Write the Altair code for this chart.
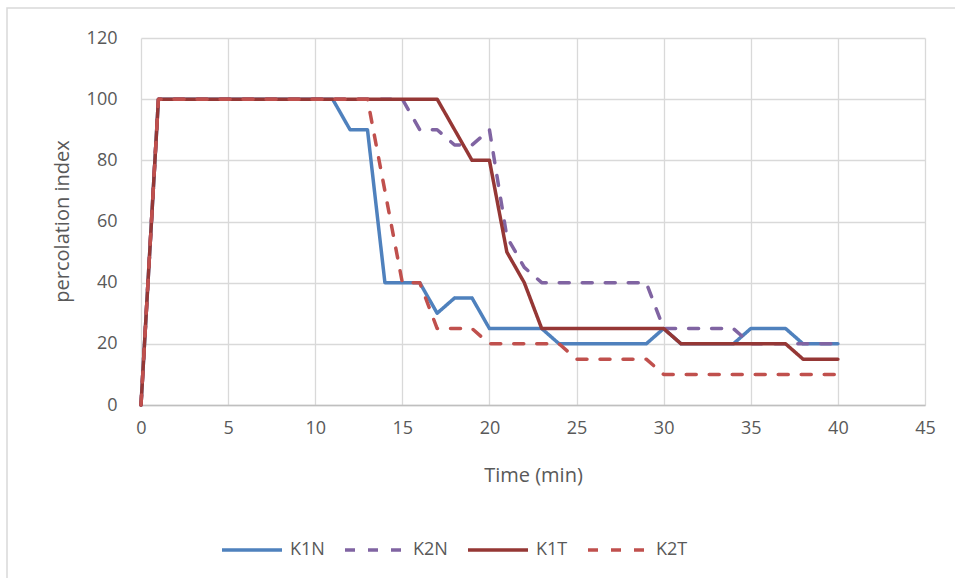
import altair as alt
import pandas as pd

minutes = list(range(0, 41))
k1n = [0] + [100] * 11 + [90, 90, 40, 40, 40, 30, 35, 35, 25, 25, 25, 25,
                          20, 20, 20, 20, 20, 20, 25, 20, 20, 20, 20, 25, 25, 25, 20, 20, 20]
k2n = [0] + [100] * 15 + [90, 90, 85, 85, 90, 55, 45, 40, 40, 40, 40, 40, 40, 40,
                          25, 25, 25, 25, 25, 20, 20, 20, 20, 20, 20]
k1t = [0] + [100] * 17 + [90, 80, 80, 50, 40, 25, 25, 25, 25, 25, 25, 25, 25,
                          20, 20, 20, 20, 20, 20, 20, 15, 15, 15]
k2t = [0] + [100] * 13 + [70, 40, 40, 25, 25, 25, 20, 20, 20, 20, 20, 15, 15, 15, 15, 15,
                          10, 10, 10, 10, 10, 10, 10, 10, 10, 10, 10]

series_names = ["K1N", "K2N", "K1T", "K2T"]
series_values = [k1n, k2n, k1t, k2t]
colors = ["#4F81BD", "#8064A2", "#953735", "#C0504D"]
dashes = [[1, 0], [10, 13], [1, 0], [10, 13]]

rows = []
for name, vals in zip(series_names, series_values):
    for t, v in zip(minutes, vals):
        rows.append({"Time": t, "value": v, "series": name})
df = pd.DataFrame(rows)

FONT = "Open Sans"
GRAY = "#595959"

lines = alt.Chart(df).mark_line(strokeWidth=3.5, strokeCap="round", strokeJoin="round").encode(
    x=alt.X("Time:Q", scale=alt.Scale(domain=[0, 45], nice=False),
            axis=alt.Axis(values=list(range(0, 46, 5)), title="Time (min)",
                          titleX=392, titleY=70, titleBaseline="middle",
                          labelPadding=14, titleFontSize=20, labelFlush=False)),
    y=alt.Y("value:Q", scale=alt.Scale(domain=[0, 120], nice=False),
            axis=alt.Axis(values=list(range(0, 121, 20)), title="percolation index",
                          titleX=-79, titleY=183, titleBaseline="middle", titleAngle=-90,
                          labelPadding=24, domain=False, titleFontSize=20, labelFlush=False)),
    color=alt.Color("series:N", scale=alt.Scale(domain=series_names, range=colors),
                    legend=alt.Legend(title=None, orient="none", direction="horizontal",
                                      legendX=79, legendY=480,
                                      symbolType="M-1,0L1,0", symbolSize=3600,
                                      symbolStrokeWidth=3.5, labelFontSize=18,
                                      labelColor=GRAY, labelFont=FONT,
                                      columnPadding=13, labelOffset=6)),
    strokeDash=alt.StrokeDash("series:N", scale=alt.Scale(domain=series_names, range=dashes),
                              legend=None),
    order=alt.Order("Time:Q"),
)

border = alt.Chart(pd.DataFrame({"a": [0]})).mark_rect(
    fill=None, stroke="#D9D9D9", strokeWidth=1.5
).encode(x=alt.value(-134), x2=alt.value(900), y=alt.value(-30), y2=alt.value(600))

chart = alt.layer(border, lines).properties(
    width=784, height=367,
    background="white",
    autosize=alt.AutoSizeParams(type="none"),
    padding={"left": 141, "top": 38, "right": 30, "bottom": 173},
).configure_axis(
    grid=True, gridColor="#D9D9D9", gridWidth=1.3, ticks=False,
    domainColor="#BFBFBF", domainWidth=1.5,
    labelFont=FONT, labelFontSize=18, labelColor=GRAY,
    titleFont=FONT, titleColor=GRAY, titleFontWeight="normal",
).configure_view(stroke=None)

chart.save("out.html", embed_options={"renderer": "svg", "actions": False})
